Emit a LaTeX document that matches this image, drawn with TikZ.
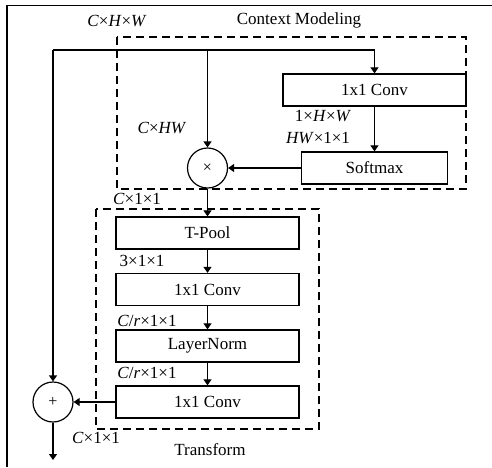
\documentclass[tikz,border=0pt]{standalone}
\usepackage{fontspec}
\setmainfont{Liberation Serif}
\usetikzlibrary{arrows.meta}
\newcommand{\fsz}{\fontsize{17}{20}\selectfont}
\begin{document}
\begin{tikzpicture}[x=1pt,y=-1pt,
  blk/.style={draw, line width=1.3pt, minimum width=183pt, minimum height=32pt, inner sep=0pt, font=\fsz},
  op/.style={draw, circle, minimum size=40pt, inner sep=0pt, line width=1.2pt, font=\fontsize{16}{18}\selectfont},
  dbox/.style={draw, line width=1.2pt, dash pattern=on 8pt off 5pt},
  arr/.style={line width=1.2pt, -{Triangle[length=6pt,width=8pt]}},
  lbl/.style={font=\fsz, inner sep=0pt}]
\useasboundingbox (0,0) rectangle (492,467);
% frame
\draw[line width=1.5pt] (7,467) -- (7,5.5) -- (492,5.5);
% dashed groups
\draw[dbox] (117,37) rectangle (466,189);
\draw[dbox] (96,209) rectangle (319,429);
% nodes
\node[blk] (conv1) at (374.5,90) {1x1 Conv};
\node[blk, minimum width=146pt] (softmax) at (374.5,168) {Softmax};
\node[op] (mul) at (207.5,168) {×};
\node[blk] (tpool) at (207.5,233) {T-Pool};
\node[blk] (conv2) at (207.5,289.5) {1x1 Conv};
\node[blk] (ln) at (207.5,346) {LayerNorm};
\node[blk] (conv3) at (207.5,402) {1x1 Conv};
\node[op] (add) at (53,402) {+};
\coordinate (tl) at (53,50);
\coordinate (out) at (53,460);
% connectors
\draw[arr] (tl) -- (add.north);
\draw[arr] (tl) -| (conv1.north);
\draw[arr] (mul.north |- tl) -- (mul.north);
\draw[arr] (conv1.south) -- (softmax.north);
\draw[arr] (softmax.west) -- (mul.east);
\draw[arr] (mul.south) -- (tpool.north);
\draw[arr] (tpool.south) -- (conv2.north);
\draw[arr] (conv2.south) -- (ln.north);
\draw[arr] (ln.south) -- (conv3.north);
\draw[arr] (conv3.west) -- (add.east);
\draw[arr] (add.south) -- (out);
% labels
\node[lbl] (l1) at (117,21) {\textit{C}×\textit{H}×\textit{W}};
\node[lbl] (l2) at (299,20) {Context Modeling};
\node[lbl] (l3) at (162,128) {\textit{C}×\textit{HW}};
\node[lbl] (l4) at (323,116) {1×\textit{H}×\textit{W}};
\node[lbl] (l5) at (318,138) {\textit{HW}×1×1};
\node[lbl] (l6) at (137,199) {\textit{C}×1×1};
\node[lbl] (l7) at (142,261) {3×1×1};
\node[lbl] (l8) at (147,321) {\textit{C}/\textit{r}×1×1};
\node[lbl] (l9) at (147,373) {\textit{C}/\textit{r}×1×1};
\node[lbl] (l10) at (96,438) {\textit{C}×1×1};
\node[lbl] (l11) at (210,450) {Transform};
\end{tikzpicture}
\end{document}
